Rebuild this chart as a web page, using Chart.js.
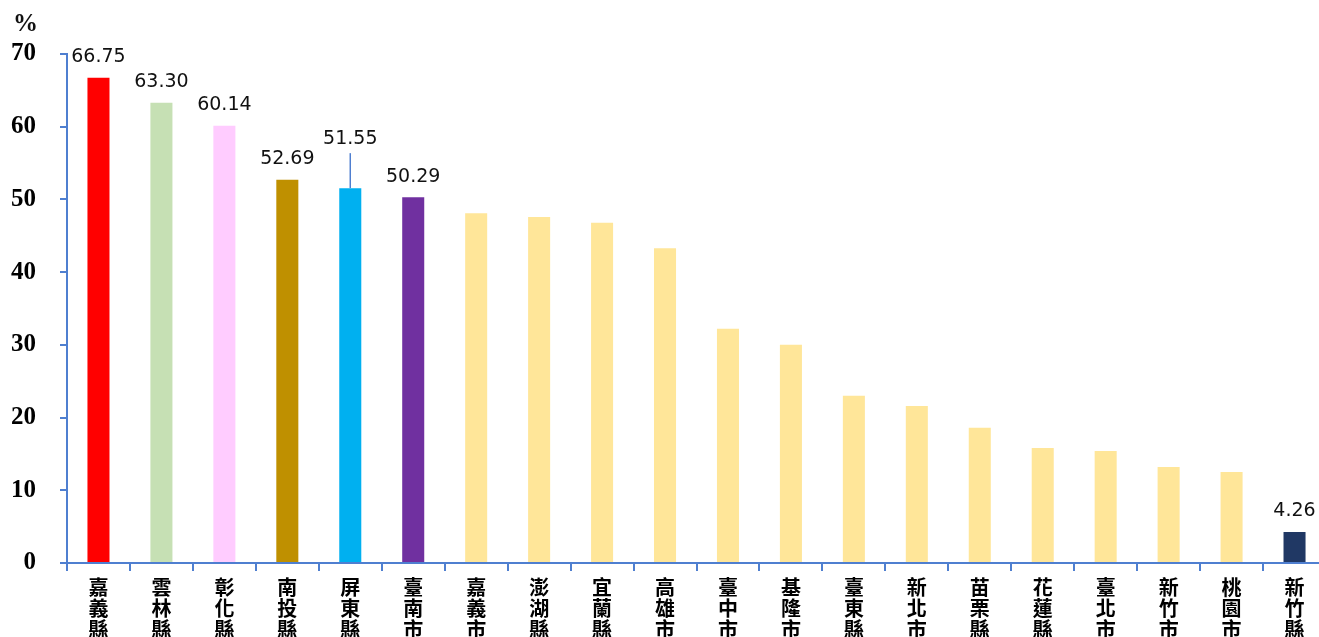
<!DOCTYPE html>
<html>
<head>
<meta charset="utf-8">
<script src="https://cdn.jsdelivr.net/npm/chart.js@4.4.1/dist/chart.umd.min.js"></script>
<style>
  html, body { margin: 0; padding: 0; background: #fff; overflow: hidden; }
  #wrap { width: 1326px; height: 637px; }
</style>
</head>
<body>
<div id="wrap"><canvas id="rateChart"></canvas></div>
<script>
const regions = ["嘉義縣", "雲林縣", "彰化縣", "南投縣", "屏東縣", "臺南市", "嘉義市", "澎湖縣", "宜蘭縣", "高雄市",
  "臺中市", "基隆市", "臺東縣", "新北市", "苗栗縣", "花蓮縣", "臺北市", "新竹市", "桃園市", "新竹縣"];
const rates = [66.75, 63.30, 60.14, 52.69, 51.55, 50.29, 48.1, 47.6, 46.8, 43.3,
  32.2, 30.0, 23.0, 21.6, 18.6, 15.8, 15.4, 13.2, 12.5, 4.26];
const barColors = ["#FF0000", "#C6E0B4", "#FFCCFF", "#BF9000", "#00B0F0", "#7030A0",
  "#FFE699", "#FFE699", "#FFE699", "#FFE699", "#FFE699", "#FFE699", "#FFE699", "#FFE699",
  "#FFE699", "#FFE699", "#FFE699", "#FFE699", "#FFE699", "#203864"];
const labelled = [0, 1, 2, 3, 4, 5, 19];
const yTicks = [0, 10, 20, 30, 40, 50, 60, 70];

const axisBlue = "#4F7FD0";

// value labels + the leader line on 屏東縣
const valueLabels = {
  id: "valueLabels",
  afterDatasetsDraw(chart) {
    const ctx = chart.ctx;
    const bars = chart.getDatasetMeta(0).data;
    ctx.save();
    ctx.font = "19px 'DejaVu Sans'";
    ctx.fillStyle = "#111";
    ctx.textAlign = "center";
    ctx.textBaseline = "bottom";
    labelled.forEach(i => {
      const b = bars[i];
      let y = b.y - 11;
      if (i === 4) {
        const top = b.y - 35;
        ctx.strokeStyle = axisBlue;
        ctx.lineWidth = 1.5;
        ctx.beginPath();
        ctx.moveTo(b.x, b.y);
        ctx.lineTo(b.x, top);
        ctx.stroke();
        y = top - 5;
      }
      ctx.fillText(rates[i].toFixed(2), b.x, y);
    });
    ctx.font = "bold 25px 'Liberation Serif'";
    ctx.textAlign = "left";
    ctx.textBaseline = "middle";
    ctx.fillText("%", 13, 25);
    ctx.restore();
  }
};

new Chart(document.getElementById("rateChart"), {
  type: "bar",
  data: {
    labels: regions.map(r => r.split("")),
    datasets: [{
      data: rates,
      backgroundColor: barColors,
      barPercentage: 0.35,
      categoryPercentage: 1.0
    }]
  },
  options: {
    responsive: true,
    maintainAspectRatio: false,
    animation: false,
    layout: { padding: { top: 54, right: 0, left: 0, bottom: 0 } },
    plugins: { legend: { display: false }, tooltip: { enabled: false } },
    scales: {
      x: {
        grid: { display: true, drawOnChartArea: false, drawTicks: true, tickLength: 8, color: axisBlue, lineWidth: 2, offset: true },
        border: { color: axisBlue, width: 2 },
        ticks: {
          color: "#000",
          maxRotation: 0,
          autoSkip: false,
          padding: 6,
          font: { family: "'Noto Sans CJK TC'", size: 20, weight: "bold", lineHeight: 1.05 }
        },
        afterFit(scale) { scale.height = 74; }
      },
      y: {
        min: 0,
        max: 70,
        afterBuildTicks(scale) { scale.ticks = yTicks.map(v => ({ value: v })); },
        grid: { display: true, drawOnChartArea: false, drawTicks: true, tickLength: 7, color: axisBlue, lineWidth: 2 },
        border: { color: axisBlue, width: 2 },
        ticks: {
          color: "#000",
          padding: 24,
          font: { family: "'Liberation Serif'", size: 25, weight: "bold" }
        },
        afterFit(scale) { scale.width = 67; }
      }
    }
  },
  plugins: [valueLabels]
});
</script>
</body>
</html>
